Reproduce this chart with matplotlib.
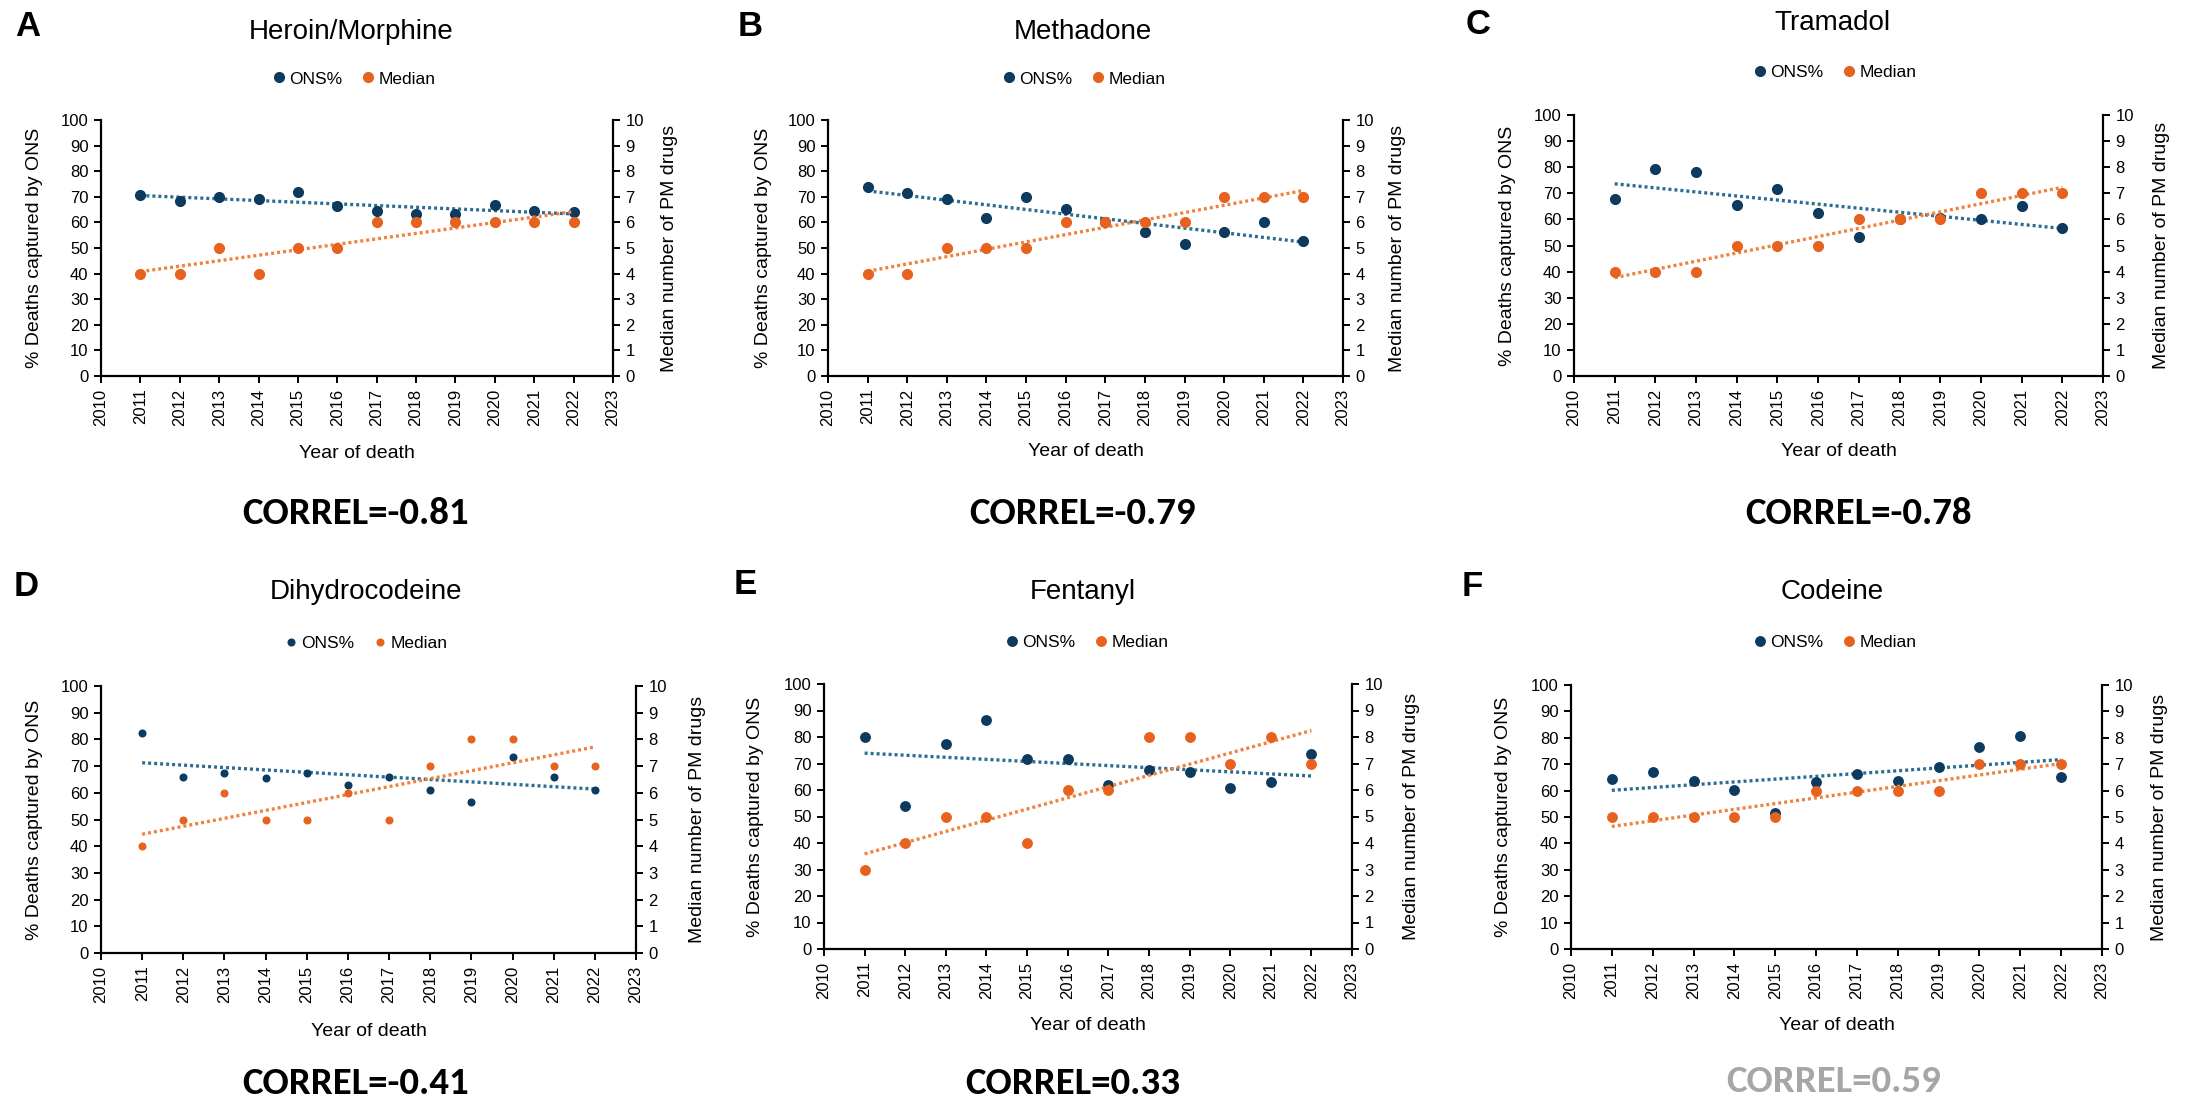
import matplotlib
matplotlib.use('Agg')
import matplotlib.pyplot as plt
import numpy as np
from matplotlib.lines import Line2D

plt.rcParams['font.family'] = ['Liberation Sans', 'DejaVu Sans']

# ---------------- data ----------------
years = [2011, 2012, 2013, 2014, 2015, 2016, 2017, 2018, 2019, 2020, 2021, 2022]
xtick_years = list(range(2010, 2024))

heroin_ons = [70.7, 68.4, 69.8, 69.1, 72.0, 66.4, 64.5, 63.3, 63.3, 66.8, 64.6, 63.9]
heroin_median = [4, 4, 5, 4, 5, 5, 6, 6, 6, 6, 6, 6]

methadone_ons = [74.0, 71.4, 69.1, 61.6, 69.8, 65.1, 60.0, 56.1, 51.4, 56.1, 60.3, 52.9]
methadone_median = [4, 4, 5, 5, 5, 6, 6, 6, 6, 7, 7, 7]

tramadol_ons = [67.7, 79.4, 78.1, 65.6, 71.8, 62.3, 53.3, 60.3, 60.6, 60.0, 65.0, 56.8]
tramadol_median = [4, 4, 4, 5, 5, 5, 6, 6, 6, 7, 7, 7]

dihydro_ons = [82.5, 66.0, 67.6, 65.4, 67.5, 62.9, 66.0, 61.1, 56.4, 73.5, 66.0, 61.0]
dihydro_median = [4, 5, 6, 5, 5, 6, 5, 7, 8, 8, 7, 7]

fentanyl_ons = [80.0, 54.0, 77.2, 86.6, 71.8, 71.8, 61.8, 67.7, 66.8, 60.6, 63.2, 73.7]
fentanyl_median = [3, 4, 5, 5, 4, 6, 6, 8, 8, 7, 8, 7]

codeine_ons = [64.3, 67.1, 63.7, 60.2, 51.7, 63.1, 66.2, 63.7, 69.0, 76.6, 80.6, 65.0]
codeine_median = [5, 5, 5, 5, 5, 6, 6, 6, 6, 7, 7, 7]

letters = ['A', 'B', 'C', 'D', 'E', 'F']
titles = ['Heroin/Morphine', 'Methadone', 'Tramadol', 'Dihydrocodeine', 'Fentanyl', 'Codeine']
ons_series = [heroin_ons, methadone_ons, tramadol_ons, dihydro_ons, fentanyl_ons, codeine_ons]
median_series = [heroin_median, methadone_median, tramadol_median,
                 dihydro_median, fentanyl_median, codeine_median]
correl_texts = ['CORREL=-0.81', 'CORREL=-0.79', 'CORREL=-0.78',
                'CORREL=-0.41', 'CORREL=0.33', 'CORREL=0.59']
legend_labels = ['ONS%', 'Median']

# ---------------- layout (pixels) ----------------
W, H = 2190, 1104
BLUE = '#0D3A5F'
BLUE_T = '#2B6E92'
ORANGE = '#E8621F'
ORANGE_T = '#F0823F'

layout = [
    dict(box=(101, 613, 120, 376), title=(351, 32), leg=(353, 79), let=(28, 27),
         cor=(356, 513), xl=453, ldx=66, rdx=56, ms=7, cc='black'),
    dict(box=(828, 1343, 120, 376), title=(1083, 32), leg=(1083, 79), let=(750, 26),
         cor=(1083, 513), xl=452, ldx=65, rdx=55, ms=7, cc='black'),
    dict(box=(1574, 2103, 115, 376), title=(1832, 23), leg=(1834, 72), let=(1478, 25),
         cor=(1858, 513), xl=452, ldx=67, rdx=59, ms=7, cc='black'),
    dict(box=(101, 636, 686, 953), title=(366, 592), leg=(365, 643), let=(26, 586),
         cor=(356, 1083), xl=1032, ldx=66, rdx=61, ms=4.8, cc='black'),
    dict(box=(824, 1352, 684, 949), title=(1083, 592), leg=(1086, 642), let=(745, 585),
         cor=(1073, 1083), xl=1025, ldx=68, rdx=59, ms=6.8, cc='black'),
    dict(box=(1571, 2102, 685, 949), title=(1832, 592), leg=(1834, 642), let=(1472, 586),
         cor=(1834, 1082), xl=1025, ldx=67, rdx=58, ms=6.8, cc='#A6A6A6'),
]


def fx(px):
    return px / W


def fy(py):
    return 1 - py / H


fig = plt.figure(figsize=(W / 100, H / 100), dpi=100)

for i in range(6):
    L = layout[i]
    l, r, t, b = L['box']
    ax = fig.add_axes([fx(l), fy(b), (r - l) / W, (b - t) / H])
    ax2 = ax.twinx()

    ons = ons_series[i]
    med = median_series[i]

    ax.set_xlim(2010, 2023)
    ax.set_ylim(0, 100)
    ax2.set_ylim(0, 10)
    ax.set_xticks(xtick_years)
    ax.set_xticklabels([str(y) for y in xtick_years], rotation=90)
    ax.set_yticks(range(0, 101, 10))
    ax2.set_yticks(range(0, 11))

    for a in (ax, ax2):
        a.spines['top'].set_visible(False)
        for s in a.spines.values():
            s.set_linewidth(1.6)
    ax.spines['right'].set_visible(False)
    ax2.spines['left'].set_visible(False)
    ax2.spines['bottom'].set_visible(False)

    ax.tick_params(axis='both', direction='out', length=5, width=1.4, labelsize=12, pad=4)
    ax2.tick_params(axis='y', direction='out', length=5, width=1.4, labelsize=12, pad=4)

    # ONS series and trend
    ax.plot(years, ons, 'o', color=BLUE, ms=L['ms'], zorder=3, clip_on=False)
    c1 = np.polyfit(years, ons, 1)
    xx = np.array([years[0], years[-1]], dtype=float)
    ax.plot(xx, np.polyval(c1, xx), color=BLUE_T, lw=2.4, linestyle=(0, (0.9, 0.9)), zorder=2)

    # Median series and trend (secondary axis)
    ax2.plot(years, med, 'o', color=ORANGE, ms=L['ms'], zorder=3, clip_on=False)
    c2 = np.polyfit(years, med, 1)
    ax2.plot(xx, np.polyval(c2, xx), color=ORANGE_T, lw=2.4, linestyle=(0, (0.9, 0.9)), zorder=2)

    # texts
    cx = (l + r) / 2
    cy = (t + b) / 2
    fig.text(fx(L['let'][0]), fy(L['let'][1]), letters[i], fontsize=25, fontweight='bold',
             ha='center', va='center')
    fig.text(fx(L['title'][0]), fy(L['title'][1]), titles[i], fontsize=20,
             ha='center', va='center')
    fig.text(fx(l - L['ldx']), fy(cy), '% Deaths captured by ONS', fontsize=14,
             rotation=90, ha='center', va='center')
    fig.text(fx(r + L['rdx']), fy(cy), 'Median number of PM drugs', fontsize=14,
             rotation=90, ha='center', va='center')
    fig.text(fx(cx), fy(L['xl']), 'Year of death', fontsize=14, ha='center', va='center')
    fig.text(fx(L['cor'][0]), fy(L['cor'][1]), correl_texts[i], fontsize=28, fontweight='bold',
             family=['Carlito', 'Lato', 'DejaVu Sans'], color=L['cc'], ha='center', va='center')

    handles = [Line2D([], [], marker='o', ls='none', color=BLUE, ms=L['ms']),
               Line2D([], [], marker='o', ls='none', color=ORANGE, ms=L['ms'])]
    fig.legend(handles, legend_labels, loc='center', ncol=2, frameon=False, fontsize=12.5,
               bbox_to_anchor=(fx(L['leg'][0]), fy(L['leg'][1])), handletextpad=0.1,
               columnspacing=1.0, handlelength=1.0, borderpad=0)

fig.savefig('out.png', dpi=100)
